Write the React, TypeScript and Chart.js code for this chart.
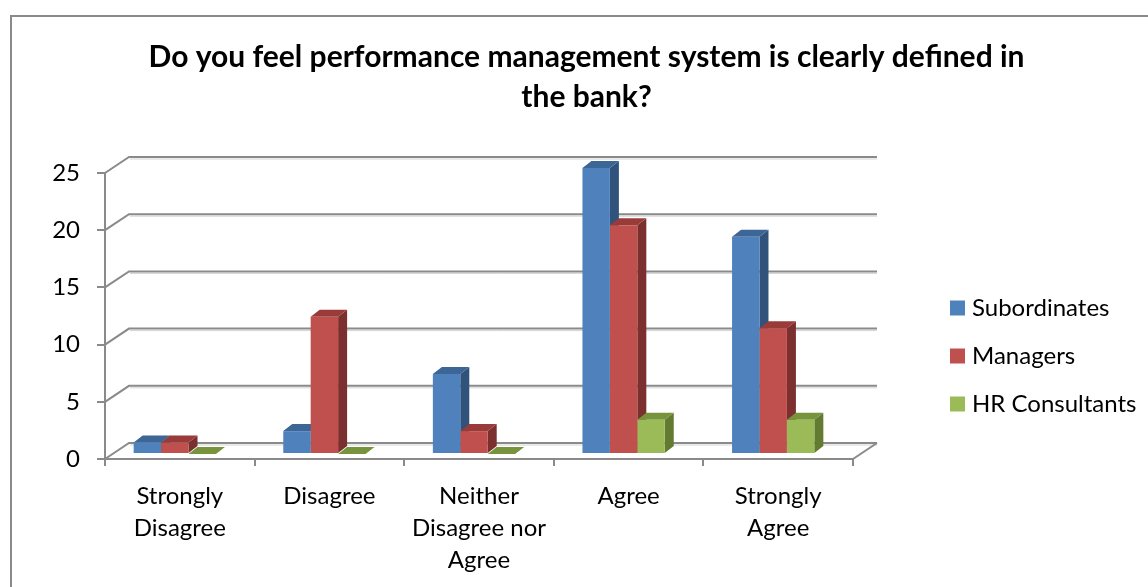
import React, { useEffect, useRef } from 'react';
import { Chart, registerables } from 'chart.js';

Chart.register(...registerables);

// ---- data ----
const categories: string[][] = [
  ['Strongly', 'Disagree'],
  ['Disagree'],
  ['Neither', 'Disagree nor', 'Agree'],
  ['Agree'],
  ['Strongly', 'Agree'],
];
const seriesNames = ['Subordinates', 'Managers', 'HR Consultants'];
const subordinates = [1, 2, 7, 25, 19];
const managers = [1, 12, 2, 20, 11];
const hrConsultants = [0, 0, 0, 3, 3];
const yTickValues = [0, 5, 10, 15, 20, 25];
const titleLines = [
  'Do you feel performance management system is clearly defined in',
  'the bank?',
];

// ---- styles ----
const frontColors = ['#4f81bd', '#c0504d', '#9bbb59'];
const topColors = ['#3c6695', '#983b39', '#77933c'];
const sideColors = ['#30527b', '#7b2f2e', '#627b31'];
const GRID = '#8a8a8a';
const FONT = 'Lato';

const WALL_DX = 24;
const WALL_DY = -16;
const BAR_DX = 9;
const BAR_DY = -7;
const SHIFT_X = -5;
const SHIFT_Y = -5;

const threeD = {
  id: 'threeD',
  beforeDraw(chart: any) {
    const ctx = chart.ctx;
    ctx.save();
    ctx.fillStyle = '#ffffff';
    ctx.fillRect(0, 0, chart.width, chart.height);
    // outer chart border
    ctx.strokeStyle = GRID;
    ctx.lineWidth = 2;
    ctx.strokeRect(11, 16, 1152, 700);
    // walls
    const ys = chart.scales.y;
    const { left, right, bottom } = chart.chartArea;
    ctx.lineCap = 'butt';
    for (const v of yTickValues) {
      const py = ys.getPixelForValue(v);
      ctx.strokeStyle = '#d4d4d4';
      ctx.lineWidth = 1;
      ctx.beginPath();
      ctx.moveTo(left + WALL_DX + 1, py + WALL_DY + 2);
      ctx.lineTo(right + WALL_DX, py + WALL_DY + 2);
      ctx.stroke();
      ctx.strokeStyle = GRID;
      ctx.lineWidth = 2;
      ctx.beginPath();
      ctx.moveTo(left, py);
      ctx.lineTo(left + WALL_DX, py + WALL_DY);
      ctx.lineTo(right + WALL_DX, py + WALL_DY);
      ctx.stroke();
    }
    ctx.beginPath();
    ctx.moveTo(right, bottom);
    ctx.lineTo(right + WALL_DX, bottom + WALL_DY);
    ctx.stroke();
    ctx.restore();
  },
  beforeDatasetsDraw(chart: any) {
    const ctx = chart.ctx;
    ctx.save();
    ctx.translate(SHIFT_X, SHIFT_Y);
    const n = chart.data.labels.length;
    for (let i = 0; i < n; i++) {
      chart.data.datasets.forEach((_ds: any, d: number) => {
        const el = chart.getDatasetMeta(d).data[i];
        if (!el) return;
        const { x, y, base, width } = el.getProps(['x', 'y', 'base', 'width'], true);
        const x0 = x - width / 2;
        const x1 = x + width / 2;
        ctx.fillStyle = sideColors[d];
        ctx.beginPath();
        ctx.moveTo(x1, y);
        ctx.lineTo(x1 + BAR_DX, y + BAR_DY);
        ctx.lineTo(x1 + BAR_DX, base + BAR_DY);
        ctx.lineTo(x1, base);
        ctx.closePath();
        ctx.fill();
        ctx.fillStyle = topColors[d];
        ctx.beginPath();
        ctx.moveTo(x0, y);
        ctx.lineTo(x0 + BAR_DX, y + BAR_DY);
        ctx.lineTo(x1 + BAR_DX, y + BAR_DY);
        ctx.lineTo(x1, y);
        ctx.closePath();
        ctx.fill();
      });
    }
  },
  afterDatasetsDraw(chart: any) {
    chart.ctx.restore();
  },
  afterDraw(chart: any) {
    const ctx = chart.ctx;
    ctx.save();
    ctx.font = `24px ${FONT}`;
    ctx.textBaseline = 'middle';
    ctx.textAlign = 'left';
    chart.data.datasets.forEach((ds: any, d: number) => {
      const cy = 308 + d * 48;
      ctx.fillStyle = ds.backgroundColor;
      ctx.fillRect(950, cy - 7.5, 15, 15);
      ctx.fillStyle = '#000';
      ctx.fillText(ds.label, 972, cy);
    });
    ctx.restore();
  },
};

export default function App() {
  const ref = useRef<HTMLCanvasElement>(null);
  useEffect(() => {
    document.body.style.margin = '0';
    document.body.style.overflow = 'hidden';
    const canvas = ref.current;
    if (!canvas) return;
    const chart = new Chart(canvas, {
      type: 'bar',
      data: {
        labels: categories as any,
        datasets: [
          { label: seriesNames[0], data: subordinates, backgroundColor: frontColors[0] },
          { label: seriesNames[1], data: managers, backgroundColor: frontColors[1] },
          { label: seriesNames[2], data: hrConsultants, backgroundColor: frontColors[2] },
        ].map((d) => ({
          ...d,
          borderWidth: 0,
          categoryPercentage: 0.55,
          barPercentage: 1,
          clip: false as any,
        })),
      },
      options: {
        animation: false,
        responsive: false,
        devicePixelRatio: 1,
        layout: { padding: 0 },
        plugins: {
          legend: { display: false },
          tooltip: { enabled: false },
          title: {
            display: true,
            text: titleLines,
            color: '#000',
            font: { family: FONT, size: 30, weight: 'bold', lineHeight: 40 / 30 },
            padding: { top: 37, bottom: 56 },
          },
        },
        scales: {
          x: {
            grid: {
              offset: true,
              drawOnChartArea: false,
              drawTicks: true,
              tickLength: 7,
              color: GRID,
              lineWidth: 2,
            },
            border: { display: true, color: GRID, width: 2 },
            ticks: {
              color: '#000',
              font: { family: FONT, size: 24, lineHeight: 32 / 24 },
              padding: 14,
              maxRotation: 0,
              autoSkip: false,
            },
            afterFit: (s: any) => {
              s.height = 128;
            },
          },
          y: {
            min: 0,
            max: 25,
            ticks: {
              stepSize: 5,
              color: '#000',
              font: { family: FONT, size: 24 },
              padding: 17,
            },
            grid: {
              drawOnChartArea: false,
              drawTicks: true,
              tickLength: 8,
              color: GRID,
              lineWidth: 2,
            },
            border: { display: true, color: GRID, width: 2 },
            afterFit: (s: any) => {
              s.width = 105;
            },
          },
          y2: {
            position: 'right',
            display: true,
            grid: { display: false },
            ticks: { display: false },
            border: { display: false },
            afterFit: (s: any) => {
              s.width = 320;
            },
          },
        },
      } as any,
      plugins: [threeD],
    });
    return () => chart.destroy();
  }, []);
  return (
    <div
      style={{
        position: 'fixed',
        left: 0,
        top: 0,
        width: 1148,
        height: 587,
        overflow: 'hidden',
        background: '#fff',
      }}
    >
      <canvas ref={ref} width={1173} height={587} style={{ display: 'block', width: 1173, height: 587 }} />
    </div>
  );
}
